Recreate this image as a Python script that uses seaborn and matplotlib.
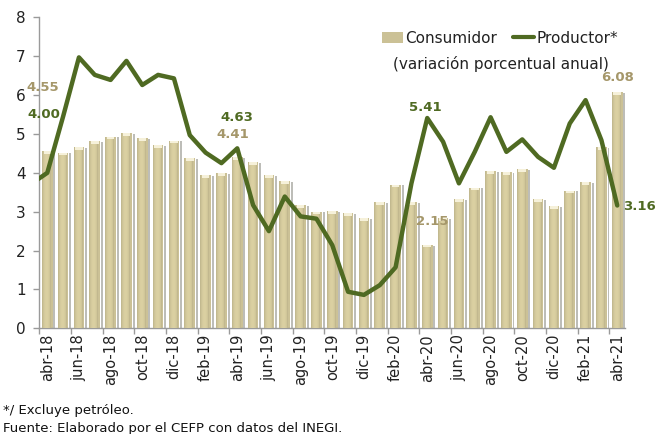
import numpy as np
import pandas as pd
import matplotlib
matplotlib.use("Agg")
import matplotlib.pyplot as plt
from matplotlib.patches import Patch
from matplotlib.lines import Line2D
import seaborn as sns

meses = ["abr-18", "may-18", "jun-18", "jul-18", "ago-18", "sep-18", "oct-18",
         "nov-18", "dic-18", "ene-19", "feb-19", "mar-19", "abr-19", "may-19",
         "jun-19", "jul-19", "ago-19", "sep-19", "oct-19", "nov-19", "dic-19",
         "ene-20", "feb-20", "mar-20", "abr-20", "may-20", "jun-20", "jul-20",
         "ago-20", "sep-20", "oct-20", "nov-20", "dic-20", "ene-21", "feb-21",
         "mar-21", "abr-21"]
consumidor = [4.55, 4.52, 4.66, 4.82, 4.93, 5.03, 4.90, 4.72, 4.83, 4.37, 3.94,
              4.00, 4.41, 4.28, 3.95, 3.78, 3.16, 3.00, 3.02, 2.97, 2.83, 3.24,
              3.70, 3.25, 2.15, 2.84, 3.33, 3.62, 4.05, 4.01, 4.09, 3.33, 3.15,
              3.54, 3.76, 4.67, 6.08]
productor = [4.00, 5.45, 6.97, 6.52, 6.39, 6.88, 6.26, 6.52, 6.43, 4.97, 4.52,
             4.25, 4.63, 3.17, 2.50, 3.39, 2.88, 2.82, 2.14, 0.94, 0.86, 1.11,
             1.57, 3.73, 5.41, 4.80, 3.73, 4.54, 5.43, 4.54, 4.86, 4.41, 4.13,
             5.27, 5.87, 4.84, 3.16]
productor_mar18 = 3.72  # previous month, only partly visible at the left edge
ytick_vals = [0, 1, 2, 3, 4, 5, 6, 7, 8]

GREEN = "#4f6a22"
TAN_TXT = "#a5976a"
BAR = np.array([203, 193, 150]) / 255.0

sns.set_theme(style="white")
plt.rcParams['font.family'] = ['DejaVu Sans']

fig = plt.figure(figsize=(6.56, 4.34), dpi=100)
ax = fig.add_axes([0.060, 0.2435, 0.893, 0.7165])

df = pd.DataFrame({"mes": meses, "consumidor": consumidor})
sns.barplot(data=df, x="mes", y="consumidor", color=tuple(BAR), width=0.68,
            saturation=1, ax=ax, zorder=2, edgecolor="none")

# cylinder-like shading on each bar
prof = np.linspace(-1, 1, 64)
shade = 0.82 + 0.26 * np.cos((prof + 0.15) * np.pi / 2) ** 0.6
shade = shade - 0.08 * (prof > 0.6)
grad = np.clip(BAR[None, :] * shade[:, None], 0, 1)[None, :, :]
for p in list(ax.patches):
    x0, w, h = p.get_x(), p.get_width(), p.get_height()
    # shadow to the right
    ax.bar(x0 + w + 0.05, h - 0.02, width=0.12, align="edge",
           color="#bdbdb8", zorder=1, linewidth=0)
    im = ax.imshow(grad, extent=[x0, x0 + w, 0, h], aspect="auto",
                   zorder=3, interpolation="bilinear")
    im.set_clip_path(p)
    # light cap at top
    ax.bar(x0 + w / 2, 0.07, bottom=h - 0.07, width=w * 0.7,
           color="#f6f1da", zorder=4, linewidth=0)

xs = np.arange(-1, len(productor))
sns.lineplot(x=xs, y=[productor_mar18] + productor, ax=ax, color=GREEN,
             linewidth=3.2, sort=False, zorder=6, legend=False)

ax.set_xlim(-0.5, len(meses) - 0.5)
ax.set_ylim(0, 8)
ax.set_yticks(ytick_vals)
ax.set_yticklabels([str(v) for v in ytick_vals], fontsize=11, color="#222222")
ax.set_xticks(np.arange(0, len(meses), 2))
ax.set_xticklabels(meses[::2], rotation=90, fontsize=10.5, color="#222222")
ax.set_xticks(np.arange(-0.5, len(meses) - 1, 2), minor=True)
ax.tick_params(axis="x", which="major", length=0, pad=4)
ax.tick_params(axis="x", which="minor", length=4, color="#9a9a9a", width=1,
               direction="out", bottom=True)
ax.tick_params(axis="y", length=4, color="#9a9a9a", width=1, direction="out",
               left=True, pad=6)
ax.set_xlabel("")
ax.set_ylabel("")
for s in ["top", "right"]:
    ax.spines[s].set_visible(False)
for s in ["left", "bottom"]:
    ax.spines[s].set_color("#9a9a9a")
    ax.spines[s].set_linewidth(1)

def lab(i, val, txt, dx, dy, col):
    ax.annotate(txt, xy=(i, val), xytext=(dx, dy), textcoords="offset pixels",
                ha="center", va="center", fontsize=9.5, fontweight="bold",
                color=col, zorder=8, annotation_clip=False)

lab(0, consumidor[0], "4.55", -5, 64, TAN_TXT)
lab(0, productor[0], "4.00", -3, 58, GREEN)
lab(12, productor[12], "4.63", 0, 31, GREEN)
lab(12, consumidor[12], "4.41", -4, 22, TAN_TXT)
lab(24, productor[24], "5.41", -2, 11, GREEN)
lab(24, consumidor[24], "2.15", 5, 23, TAN_TXT)
lab(36, consumidor[36], "6.08", 0, 14, TAN_TXT)
lab(36, productor[36], "3.16", 22, -1, GREEN)

handles = [Patch(facecolor=tuple(BAR), edgecolor="none"),
           Line2D([0], [0], color=GREEN, linewidth=3)]
fig.legend(handles, ["Consumidor", "Productor*"], loc="center",
           bbox_to_anchor=(0.762, 0.912), ncol=2, frameon=False,
           fontsize=11, handlelength=1.4, handletextpad=0.15,
           columnspacing=1.0, labelcolor="#222222")
fig.text(0.763, 0.852, "(variación porcentual anual)", ha="center",
         va="center", fontsize=11, color="#222222")

fig.text(0.004, 0.055, "*/ Excluye petróleo.", ha="left", va="center",
         fontsize=9.5, color="#111111")
fig.text(0.004, 0.012, "Fuente: Elaborado por el CEFP con datos del INEGI.",
         ha="left", va="center", fontsize=9.5, color="#111111")

fig.savefig("out.png", dpi=100)
